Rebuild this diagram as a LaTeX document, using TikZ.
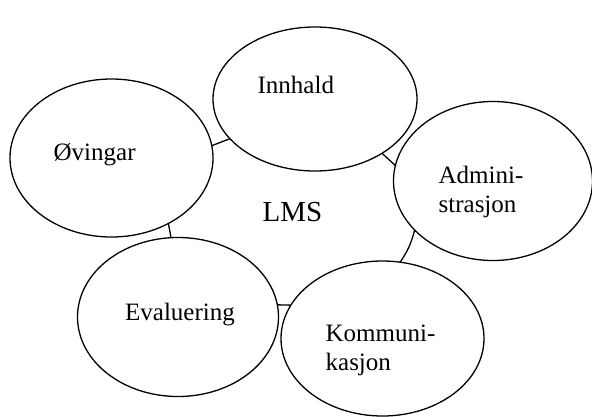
\documentclass[tikz,border=0pt]{standalone}
\usepackage{fontspec}
\setmainfont{Liberation Serif}
\usepackage{tikz}
\usetikzlibrary{shapes}
\tikzstyle{area}=[ellipse,draw=black,fill=white,inner sep=0mm,outer sep=0mm,minimum width=203pt,minimum height=158pt]
\tikzstyle{txt}=[anchor=base west,inner sep=0mm,align=left,font=\fontsize{25}{28.7}\selectfont]
\tikzset{every picture/.style={
    line width=1.3
  }
}
\begin{document}
\begin{tikzpicture}[x=1pt,y=-1pt]
      \useasboundingbox (0,0) rectangle (592,416);
      \node[area,minimum width=204pt,minimum height=144pt] at (315,99) (innhald) {};
      \node[area] at (111.5,158) (ovingar) {};
      \node[area,minimum width=199pt,minimum height=159pt] at (493,181) (admin) {};
      \node[area,minimum width=201pt,minimum height=159pt] at (178,317) (eval) {};
      \node[area,minimum height=155pt] at (382.5,338.5) (komm) {};
      \draw (ovingar.7)--(innhald.205);
      \draw (innhald.321)--(admin.171);
      \draw (admin.212) to[bend left=10] (komm.77);
      \draw (eval.7)--(komm.160);
      \draw (ovingar.311)--(eval.95);
      \node[txt] at (257,93) (innhaldtxt) {Innhald};
      \node[txt] at (53,160) (ovingartxt) {Øvingar};
      \node[txt] at (438,212) (admintxt) {Admini-\\strasjon};
      \node[txt] at (124.5,320) (evaltxt) {Evaluering};
      \node[txt] at (325,370.5) (kommtxt) {Kommuni-\\kasjon};
      \node[txt,font=\fontsize{29}{33}\selectfont] at (262,221) (lms) {LMS};
    \end{tikzpicture}
\end{document}
